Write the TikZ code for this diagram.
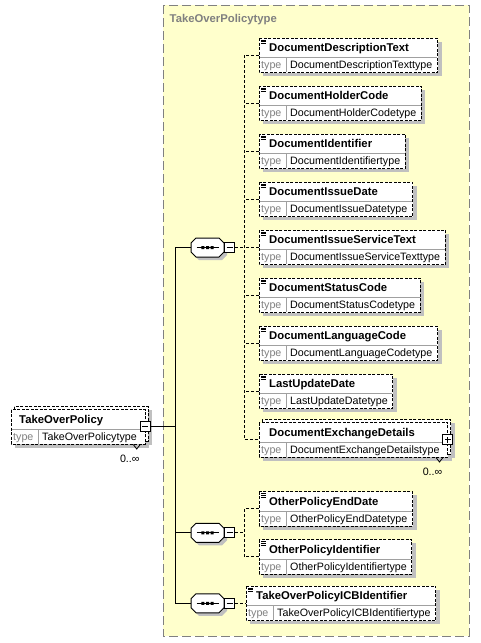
\documentclass[tikz,border=0pt]{standalone}
\usepackage{fontspec}
\setmainfont{Liberation Sans}
\usetikzlibrary{calc,fit}
\pgfdeclarelayer{ylayer}
\pgfdeclarelayer{bgl}
\pgfsetlayers{ylayer,bgl,main}
\definecolor{ylw}{RGB}{255,255,204}
\definecolor{shd}{RGB}{192,192,192}
\definecolor{frm}{RGB}{128,128,128}
\definecolor{sepc}{RGB}{160,160,160}
\newcommand\ttlfont{\fontsize{11.3}{13}\selectfont\bfseries}
\newcommand\tvfont{\fontsize{10.7}{12}\selectfont}
\tikzset{
  ttl/.style={font=\ttlfont, inner sep=0pt, anchor=base west},
  tlbl/.style={font=\tvfont, text=frm, inner sep=0pt, anchor=base west},
  tval/.style={font=\tvfont, inner sep=0pt, anchor=base west},
  ebox/.style={draw=black, fill=white, line width=1pt, dash pattern=on 3pt off 1.5pt},
  eshad/.style={fill=shd},
  sepl/.style={draw=sepc, line width=1pt},
  icon/.style={line width=0.7pt},
  efit/.style={inner sep=0pt, draw=none},
  dl/.style={line width=1pt, dash pattern=on 3pt off 2pt},
  sl/.style={line width=1pt},
  seqn/.style={inner sep=0pt, minimum width=33pt, minimum height=19pt},
  seqo/.style={draw, fill=white, line width=1pt},
  tog/.style={draw, fill=white, line width=1pt, minimum size=10pt, inner sep=0pt},
  togm/.style={tog, path picture={\draw[line width=1pt] ([xshift=2pt]path picture bounding box.west) -- ([xshift=-2pt]path picture bounding box.east);}},
  togp/.style={tog, path picture={\draw[line width=1pt] ([xshift=2pt]path picture bounding box.west) -- ([xshift=-2pt]path picture bounding box.east) ([yshift=-2pt]path picture bounding box.north) -- ([yshift=2pt]path picture bounding box.south);}},
  occ/.style={font=\tvfont, inner sep=0pt, anchor=base east},
  ybox/.style={draw=frm, fill=ylw, line width=1pt, dash pattern=on 9pt off 4pt},
  ytitle/.style={font=\ttlfont, text=frm, inner sep=0pt, anchor=base west},
}
% simple element: #1 name, #2 left, #3 top, #4 title, #5 type
\newcommand\elem[5]{%
  \node[ttl] (#1t) at (#2+10,#3+13.5) {#4};
  \node[tlbl] (#1l) at (#2+2,#3+30.5) {type};
  \node[tval] (#1v) at (#2+31,#3+30.5) {#5};
  \coordinate (#1a) at (#2,#3);
  \coordinate (#1bot) at (#2,#3+34.5);
  \coordinate (#1b) at ($(#1v.east |- #1bot)+(5,0)$);
  \coordinate (#1d) at (#2+0.5,#3+19.5);
  \begin{pgfonlayer}{bgl}
    \fill[eshad] ([shift={(4,3.5)}]#1a) rectangle ([shift={(4,3.5)}]#1b);
    \draw[ebox] (#1a) rectangle (#1b);
  \end{pgfonlayer}
  \draw[sepl] (#1d) -- ([xshift=-0.5pt]#1d -| #1b) (#2+27,#3+19.5) -- (#2+27,#3+34);
  \draw[icon] (#2+2,#3+2) -- ++(5,0) (#2+2,#3+3.8) -- ++(5,0) (#2+2,#3+5.6) -- ++(5,0);
  \node[efit, fit=(#1a)(#1b)] (#1) {};
}
% repeated element: #6 title offset, #7 toggle style
\newcommand\melem[7]{%
  \node[ttl] (#1t) at (#2+#6,#3+13.5) {#4};
  \node[tlbl] (#1l) at (#2+2,#3+30.5) {type};
  \node[tval] (#1v) at (#2+31,#3+30.5) {#5};
  \coordinate (#1a) at (#2,#3);
  \coordinate (#1bot) at (#2,#3+34.5);
  \coordinate (#1mid) at (#2,#3+17.25);
  \coordinate (#1b) at ($(#1v.east |- #1bot)+(8.3,0)$);
  \coordinate (#1d) at (#2+0.5,#3+19.5);
  \begin{pgfonlayer}{bgl}
    \fill[eshad] ([shift={(7,0.5)}]#1a) rectangle ([shift={(7,0.5)}]#1b);
    \fill[eshad] ([shift={(4,3.5)}]#1a) rectangle ([shift={(4,3.5)}]#1b);
    \draw[ebox] ([shift={(3,-3)}]#1a) rectangle ([shift={(3,-3)}]#1b);
    \draw[ebox] (#1a) rectangle (#1b);
  \end{pgfonlayer}
  \draw[sepl] (#1d) -- ([xshift=-0.5pt]#1d -| #1b) (#2+27,#3+19.5) -- (#2+27,#3+34);
  \node[#7] (#1g) at (#1b |- #1mid) {};
  \node[occ] (#1o) at ([shift={(-5.5,18)}]#1b) {0..∞};
  \draw[line width=0.8pt] ([shift={(-12,0.5)}]#1b) -- ([shift={(-8.5,5)}]#1b) -- ([shift={(-5,0.5)}]#1b);
  \node[efit, fit=(#1a)(#1b)] (#1) {};
}
% sequence compositor: #1 name, #2 cx, #3 cy
\newcommand\seqsym[3]{%
  \node[seqn] (#1) at (#2,#3) {};
  \fill[shd, shift={(3,3)}] (#2-11.5,#3-9.5) -- (#2+11.5,#3-9.5) -- (#2+16.5,#3-4.5) -- (#2+16.5,#3+4.5) -- (#2+11.5,#3+9.5) -- (#2-11.5,#3+9.5) -- (#2-16.5,#3+4.5) -- (#2-16.5,#3-4.5) -- cycle;
  \draw[seqo] (#2-11.5,#3-9.5) -- (#2+11.5,#3-9.5) -- (#2+16.5,#3-4.5) -- (#2+16.5,#3+4.5) -- (#2+11.5,#3+9.5) -- (#2-11.5,#3+9.5) -- (#2-16.5,#3+4.5) -- (#2-16.5,#3-4.5) -- cycle;
  \draw[sl] (#2-11,#3) -- (#2+11,#3);
  \fill (#2-6.2,#3-1.5) rectangle (#2-3.2,#3+1.5) (#2-1.5,#3-1.5) rectangle (#2+1.5,#3+1.5) (#2+3.2,#3-1.5) rectangle (#2+6.2,#3+1.5);
  \node[togm, anchor=west] (#1m) at (#1.east) {};
}
\begin{document}
\begin{tikzpicture}[x=1pt,y=-1pt]
\useasboundingbox (0,0) rectangle (480,643);
\begin{pgfonlayer}{ylayer}
\draw[ybox] (163,5) rectangle (469,636);
\end{pgfonlayer}
\node[ytitle] (yt) at (169.5,22.7) {TakeOverPolicytype};

% top element
\melem{e0}{11}{409.5}{TakeOverPolicy}{TakeOverPolicytype}{8}{togm}

% sequences
\seqsym{s1}{207.5}{247.5}
\seqsym{s2}{207.5}{532.75}
\seqsym{s3}{207.5}{603.25}

% children
\elem{e1}{259}{38}{DocumentDescriptionText}{DocumentDescriptionTexttype}
\elem{e2}{259}{86}{DocumentHolderCode}{DocumentHolderCodetype}
\elem{e3}{259}{134}{DocumentIdentifier}{DocumentIdentifiertype}
\elem{e4}{259}{182}{DocumentIssueDate}{DocumentIssueDatetype}
\elem{e5}{259}{230}{DocumentIssueServiceText}{DocumentIssueServiceTexttype}
\elem{e6}{259}{278}{DocumentStatusCode}{DocumentStatusCodetype}
\elem{e7}{259}{326}{DocumentLanguageCode}{DocumentLanguageCodetype}
\elem{e8}{259}{374}{LastUpdateDate}{LastUpdateDatetype}
\melem{e9}{259}{422.5}{DocumentExchangeDetails}{DocumentExchangeDetailstype}{10}{togp}
\elem{e10}{259}{491.5}{OtherPolicyEndDate}{OtherPolicyEndDatetype}
\elem{e11}{259}{539.5}{OtherPolicyIdentifier}{OtherPolicyIdentifiertype}
\elem{e12}{246}{586}{TakeOverPolicyICBIdentifier}{TakeOverPolicyICBIdentifiertype}

% solid trunk
\coordinate (tk) at (175.5,426.75);
\coordinate (bus1) at (244,0);
\draw[sl] (e0g.east) -- (tk);
\draw[sl] (s1.west) -| (tk);
\draw[sl] (s3.west) -| (tk);
\draw[sl] (s2.west) -- (s2.west -| tk);

% dashed connectors
\draw[dl] (s1m.east) -- (s1m.east -| bus1);
\draw[dl] (e1.west) -| (bus1 |- e9.west) -- (e9.west);
\foreach \i in {2,...,8} \draw[dl] (e\i.west) -- (e\i.west -| bus1);
\draw[dl] (s2m.east) -- (s2m.east -| bus1);
\draw[dl] (e10.west) -| (bus1 |- e11.west) -- (e11.west);
\draw[dl] (s3m.east) -- (e12.west);
\end{tikzpicture}
\end{document}
